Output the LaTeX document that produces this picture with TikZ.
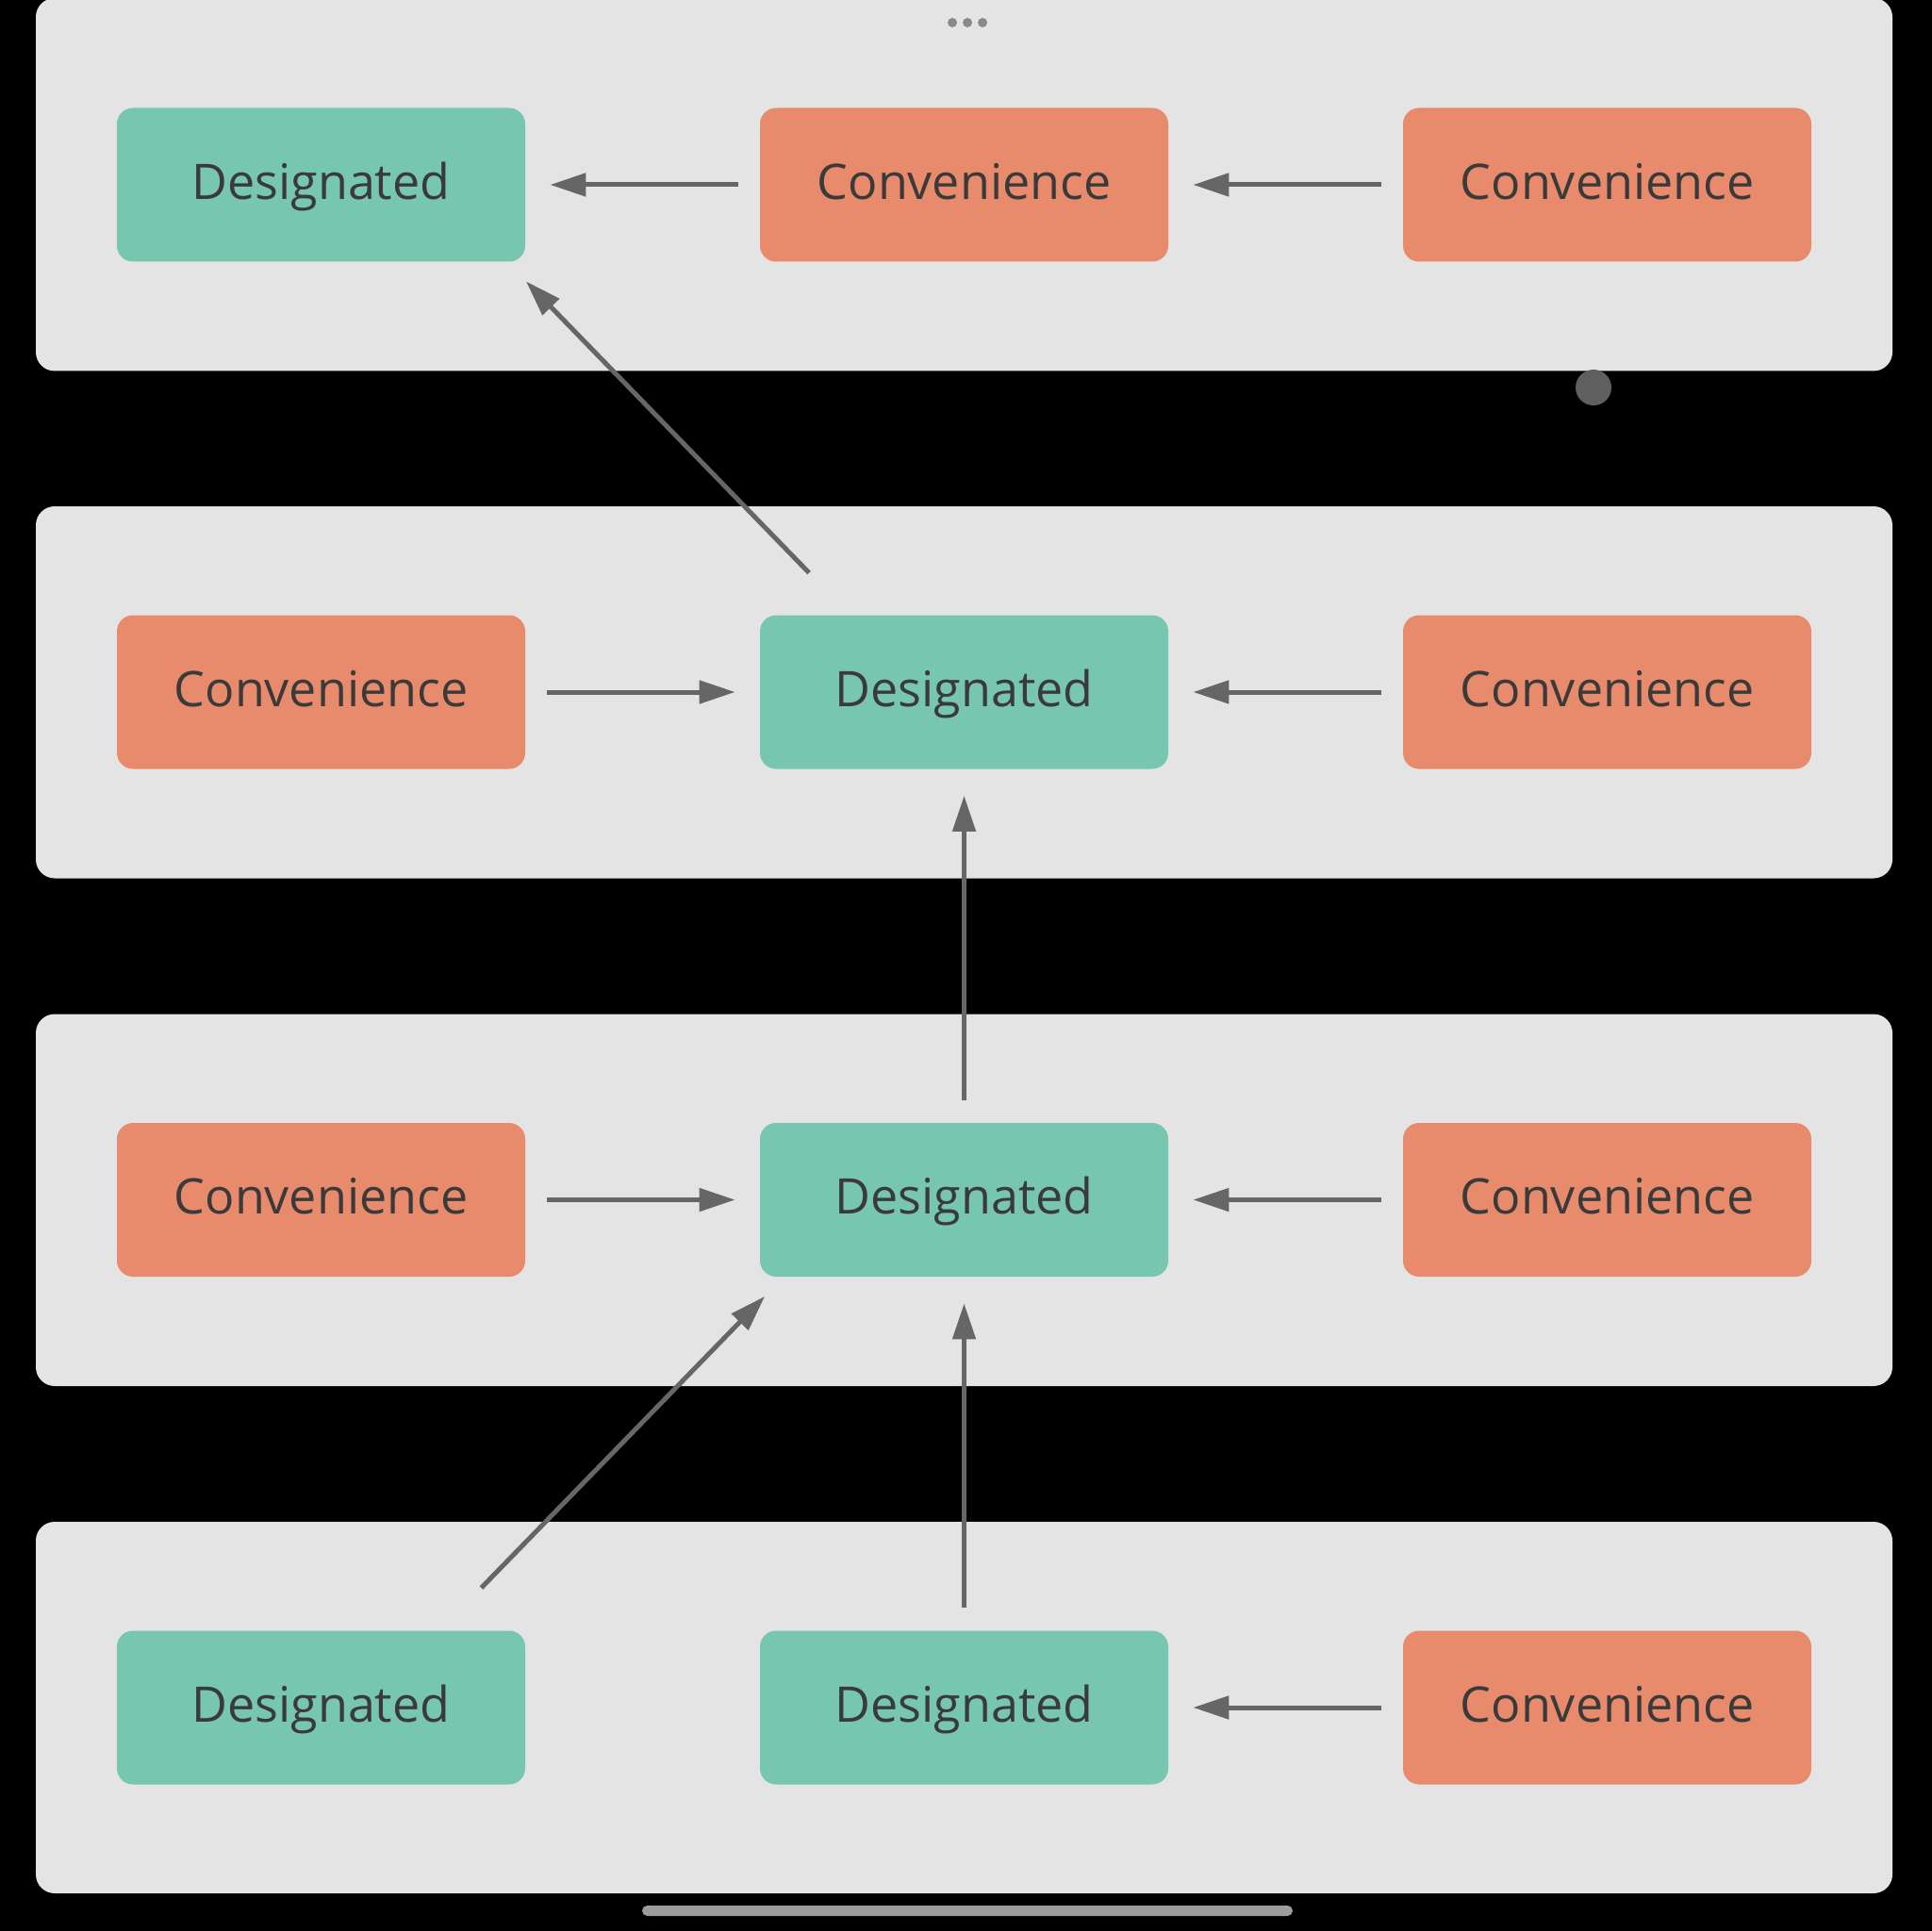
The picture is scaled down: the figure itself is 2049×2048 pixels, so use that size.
\documentclass[tikz,border=0pt]{standalone}
\usepackage{fontspec}
\newfontfamily\boxfont{Open Sans}
\usetikzlibrary{arrows.meta}
\definecolor{panelgray}{HTML}{E4E4E4}
\definecolor{desig}{HTML}{77C6B0}
\definecolor{conv}{HTML}{E88B6C}
\definecolor{txt}{HTML}{3A3A3A}
\definecolor{arrowgray}{HTML}{666666}
\definecolor{dotgray}{HTML}{8A8A8A}
\definecolor{circgray}{HTML}{5F5F5F}
\definecolor{bargray}{HTML}{9C9C9C}
\begin{document}
\begin{tikzpicture}[x=0.5pt,y=-0.5pt,
  panel/.style={fill=panelgray, rounded corners=10pt},
  boxbase/.style={minimum width=216.5pt, minimum height=81.5pt, inner sep=0pt,
    rounded corners=8.5pt, font=\boxfont\fontsize{26}{30}\selectfont, text=txt,
    text height=18.5pt, text depth=3.4pt},
  des/.style={boxbase, fill=desig},
  con/.style={boxbase, fill=conv},
  arr/.style={draw=arrowgray, line width=2.5pt, -{Triangle[length=19pt,width=12pt]}},
  hgap/.style={shorten <=11.5pt, shorten >=13pt},
  vgap/.style={shorten <=12pt, shorten >=14pt}]
  % background
  \fill[black] (0,0) rectangle (2049,2048);
  \useasboundingbox (0,0) rectangle (2049,2048);
  % panels
  \fill[panel] (38,-2) rectangle (2007,393.5);
  \fill[panel] (38,537) rectangle (2007,931.5);
  \fill[panel] (38,1075.5) rectangle (2007,1470);
  \fill[panel] (38,1614) rectangle (2007,2008);
  % row 1
  \node[des] (r1c1) at (340.5,196) {Designated};
  \node[con] (r1c2) at (1022.5,196) {Convenience};
  \node[con] (r1c3) at (1704.5,196) {Convenience};
  % row 2
  \node[con] (r2c1) at (340.5,734) {Convenience};
  \node[des] (r2c2) at (1022.5,734) {Designated};
  \node[con] (r2c3) at (1704.5,734) {Convenience};
  % row 3
  \node[con] (r3c1) at (340.5,1272.5) {Convenience};
  \node[des] (r3c2) at (1022.5,1272.5) {Designated};
  \node[con] (r3c3) at (1704.5,1272.5) {Convenience};
  % row 4
  \node[des] (r4c1) at (340.5,1811) {Designated};
  \node[des] (r4c2) at (1022.5,1811) {Designated};
  \node[con] (r4c3) at (1704.5,1811) {Convenience};
  % horizontal connectors
  \draw[arr,hgap] (r1c2) -- (r1c1);
  \draw[arr,hgap] (r1c3) -- (r1c2);
  \draw[arr,hgap] (r2c1) -- (r2c2);
  \draw[arr,hgap] (r2c3) -- (r2c2);
  \draw[arr,hgap] (r3c1) -- (r3c2);
  \draw[arr,hgap] (r3c3) -- (r3c2);
  \draw[arr,hgap] (r4c3) -- (r4c2);
  % vertical connectors
  \draw[arr,vgap] (r3c2) -- (r2c2);
  \draw[arr,vgap] (r4c2) -- (r3c2);
  % diagonal connectors
  \draw[arr] ([shift={(52.5,-44.5)}]r2c2.north west) -- ([shift={(0.5,20.5)}]r1c1.south east);
  \draw[arr] ([shift={(-47,-45)}]r4c1.north east) -- ([shift={(5.5,20.5)}]r3c2.south west);
  % decorations
  \fill[dotgray] (1010,24) circle (5) (1026,24) circle (5) (1042,24) circle (5);
  \fill[circgray] (1690,411) circle (19);
  \fill[bargray, rounded corners=2.75pt] (681,2021) rectangle (1371,2032);
\end{tikzpicture}
\end{document}
